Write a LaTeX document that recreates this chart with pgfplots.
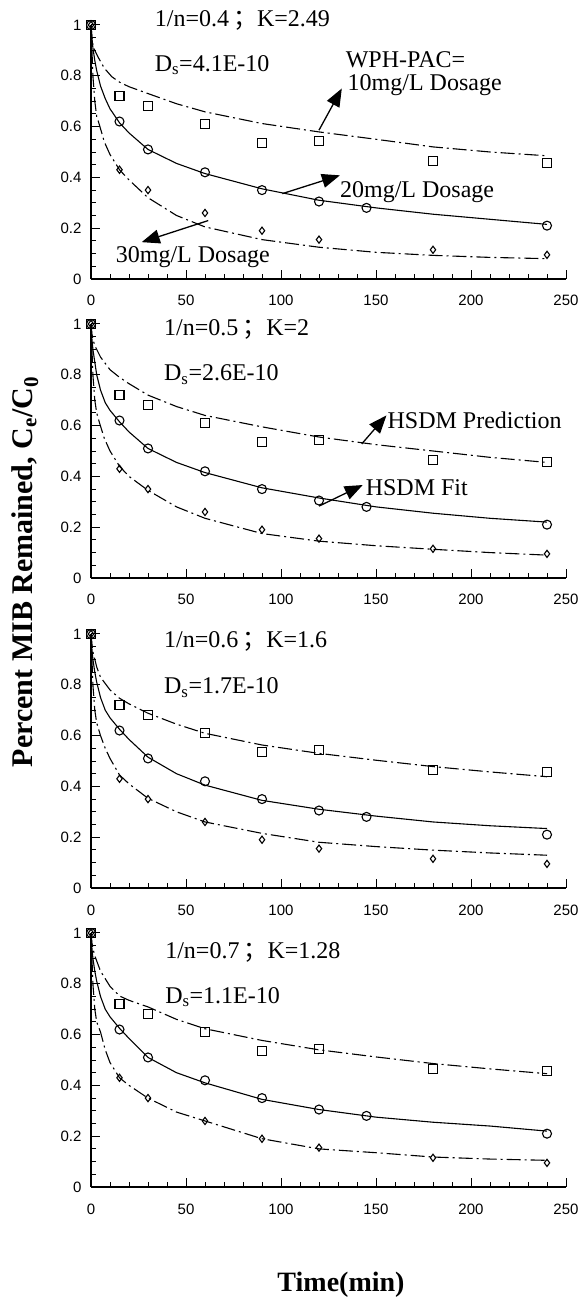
\documentclass[border=0pt]{standalone}
\usepackage{fontspec}
\setmainfont{Liberation Serif}
\newfontfamily\arial{Liberation Sans}
\newfontfamily\cjk{Noto Sans CJK SC}
\usepackage{pgfplots}
\pgfplotsset{compat=1.18}
\usetikzlibrary{arrows.meta}

\pgfplotstableread{
t v
0 1
15 0.72
30 0.68
60 0.61
90 0.535
120 0.545
180 0.465
240 0.455
}\sqdata
\pgfplotstableread{
t v
0 1
15 0.62
30 0.51
60 0.42
90 0.35
120 0.305
145 0.28
240 0.21
}\cidata
\pgfplotstableread{
t v
0 1
15 0.43
30 0.35
60 0.26
90 0.19
120 0.155
180 0.115
240 0.095
}\didata

\pgfplotsset{
  panel/.style={
    scale only axis, width=475pt, height=254pt, anchor=south west,
    xmin=0,xmax=250,ymin=0,ymax=1,
    axis lines=left, axis line style={-, line width=1.2pt},
    xtick={0,50,100,150,200,250}, minor x tick num=4,
    ytick={0,0.2,0.4,0.6,0.8,1}, minor y tick num=3,
    tick align=inside, major tick length=9pt, minor tick length=5pt,
    every tick/.style={line width=1pt, black},
    every minor tick/.style={line width=0.9pt, black},
    tick label style={font=\arial\fontsize{15}{15}\selectfont},
    /pgf/number format/assume math mode=true,
    yticklabel style={xshift=-6pt},
    xticklabel style={yshift=-13pt},
    clip=false,
  },
  sq/.style={black, only marks, mark=square, mark size=4.5pt, mark options={line width=1.1pt, solid}},
  ci/.style={black, only marks, mark=o, mark size=4.5pt, mark options={line width=1.1pt, solid}},
  di/.style={black, only marks, mark=diamond, mark size=3.6pt, mark options={line width=1.1pt, solid}},
  dd/.style={black, line width=1.1pt, no marks, dash pattern=on 14pt off 4pt on 2pt off 4pt},
  fit/.style={black, line width=1.1pt, no marks},
}
\tikzset{
  ann/.style={font=\fontsize{24}{24}\selectfont, inner sep=0pt, anchor=west},
  arr/.style={-{Triangle[width=14pt,length=18pt]}, line width=1.3pt},
}

\begin{document}
\begin{tikzpicture}[x=1pt,y=1pt]
\path[use as bounding box] (0,0) rectangle (583,1303);

% ---------- Panel 1 ----------
\begin{axis}[panel, at={(91pt,1024pt)}]
\addplot[dd] coordinates {(0,1)(0.5,0.95)(1,0.92)(2,0.9)(4,0.87)(7,0.83)(11,0.796)(15,0.775)(20,0.757)(30,0.73)(45,0.69)(60,0.658)(90,0.612)(120,0.579)(150,0.55)(180,0.52)(210,0.5)(240,0.485)};
\addplot[fit] coordinates {(0,1)(0.5,0.95)(1,0.91)(2,0.86)(3,0.82)(5,0.76)(7.5,0.71)(10,0.67)(15,0.615)(20,0.575)(30,0.51)(45,0.455)(60,0.415)(90,0.355)(120,0.31)(150,0.28)(180,0.255)(210,0.235)(240,0.215)};
\addplot[dd] coordinates {(0,1)(0.5,0.9)(1,0.8)(2,0.7)(3,0.64)(4.3,0.61)(7,0.54)(10,0.49)(15,0.43)(20,0.39)(30,0.32)(45,0.25)(60,0.205)(90,0.155)(120,0.125)(150,0.105)(180,0.093)(210,0.085)(240,0.08)};
\addplot[sq] table[x=t,y=v] {\sqdata};
\addplot[ci] table[x=t,y=v] {\cidata};
\addplot[di] table[x=t,y=v] {\didata};
\node[ann] at (axis cs:33.5,1.017) {1/n=0.4\,{\cjk ；}K=2.49};
\node[ann] at (axis cs:33.5,0.842) {D\textsubscript{s}=4.1E-10};
\node[ann] at (axis cs:134,0.862) {WPH-PAC=};
\node[ann] at (axis cs:135,0.763) {10mg/L Dosage};
\node[ann] at (axis cs:131,0.342) {20mg/L Dosage};
\node[ann] at (axis cs:13,0.086) {30mg/L Dosage};
\draw[arr] (axis cs:120,0.586) -- (axis cs:132,0.75);
\draw[arr] (axis cs:100.7,0.336) -- (axis cs:131,0.408);
\draw[arr] (axis cs:61.7,0.23) -- (axis cs:26.7,0.145);
\end{axis}

% ---------- Panel 2 ----------
\begin{axis}[panel, at={(91pt,725pt)}]
\addplot[dd] coordinates {(0,1)(0.5,0.96)(1,0.94)(2,0.915)(5,0.87)(10,0.82)(15,0.79)(20,0.765)(30,0.72)(45,0.675)(60,0.64)(90,0.595)(120,0.555)(150,0.525)(180,0.5)(210,0.475)(240,0.455)};
\addplot[fit] coordinates {(0,1)(0.5,0.94)(1,0.9)(2,0.85)(3,0.8)(5,0.74)(7.5,0.69)(10,0.66)(15,0.615)(20,0.575)(30,0.51)(45,0.455)(60,0.415)(90,0.355)(120,0.315)(150,0.28)(180,0.255)(210,0.235)(240,0.22)};
\addplot[dd] coordinates {(0,1)(0.5,0.9)(1,0.8)(2,0.7)(3,0.65)(4.5,0.61)(7,0.55)(10,0.5)(15,0.44)(20,0.4)(30,0.345)(45,0.28)(60,0.235)(90,0.175)(120,0.145)(150,0.127)(180,0.113)(210,0.1)(240,0.09)};
\addplot[sq] table[x=t,y=v] {\sqdata};
\addplot[ci] table[x=t,y=v] {\cidata};
\addplot[di] table[x=t,y=v] {\didata};
\node[ann] at (axis cs:38.4,0.98) {1/n=0.5\,{\cjk ；}K=2};
\node[ann] at (axis cs:38.4,0.80) {D\textsubscript{s}=2.6E-10};
\node[ann] at (axis cs:156,0.62) {HSDM Prediction};
\node[ann] at (axis cs:144.5,0.356) {HSDM Fit};
\draw[arr] (axis cs:142.5,0.528) -- (axis cs:155.5,0.64);
\draw[arr] (axis cs:120,0.283) -- (axis cs:143,0.366);
\end{axis}

% ---------- Panel 3 ----------
\begin{axis}[panel, at={(91pt,415pt)}]
\addplot[dd] coordinates {(0,1)(0.5,0.96)(1,0.93)(2,0.9)(3,0.87)(5,0.83)(10,0.78)(15,0.747)(20,0.725)(30,0.688)(45,0.645)(60,0.609)(90,0.563)(120,0.53)(150,0.503)(180,0.478)(210,0.457)(240,0.438)};
\addplot[fit] coordinates {(0,1)(0.5,0.94)(1,0.9)(2,0.85)(3,0.81)(5,0.75)(7.5,0.7)(10,0.67)(15,0.625)(20,0.585)(30,0.515)(45,0.45)(60,0.405)(90,0.345)(120,0.31)(150,0.283)(180,0.26)(210,0.245)(240,0.234)};
\addplot[dd] coordinates {(0,1)(0.5,0.9)(1,0.8)(2,0.7)(3,0.65)(5,0.6)(7.5,0.55)(10,0.51)(15,0.445)(20,0.41)(30,0.353)(45,0.3)(60,0.26)(90,0.215)(120,0.18)(150,0.163)(180,0.149)(210,0.138)(240,0.129)};
\addplot[sq] table[x=t,y=v] {\sqdata};
\addplot[ci] table[x=t,y=v] {\cidata};
\addplot[di] table[x=t,y=v] {\didata};
\node[ann] at (axis cs:38.4,0.97) {1/n=0.6\,{\cjk ；}K=1.6};
\node[ann] at (axis cs:38.4,0.79) {D\textsubscript{s}=1.7E-10};
\end{axis}

% ---------- Panel 4 ----------
\begin{axis}[panel, at={(91pt,116pt)}]
\addplot[dd] coordinates {(0,1)(0.5,0.96)(1,0.94)(2,0.91)(3,0.89)(5,0.85)(10,0.79)(15,0.752)(20,0.735)(30,0.709)(45,0.66)(60,0.623)(90,0.577)(120,0.54)(150,0.512)(180,0.486)(210,0.465)(240,0.446)};
\addplot[fit] coordinates {(0,1)(0.5,0.94)(1,0.9)(2,0.85)(3,0.81)(5,0.75)(7.5,0.7)(10,0.67)(15,0.625)(20,0.585)(30,0.51)(45,0.45)(60,0.41)(90,0.345)(120,0.305)(150,0.275)(180,0.255)(210,0.24)(240,0.22)};
\addplot[dd] coordinates {(0,1)(0.5,0.9)(1,0.8)(2,0.7)(3,0.65)(5,0.61)(7.5,0.54)(10,0.49)(15,0.43)(20,0.4)(30,0.35)(45,0.295)(60,0.26)(90,0.19)(120,0.15)(150,0.135)(180,0.118)(210,0.11)(240,0.105)};
\addplot[sq] table[x=t,y=v] {\sqdata};
\addplot[ci] table[x=t,y=v] {\cidata};
\addplot[di] table[x=t,y=v] {\didata};
\node[ann] at (axis cs:39,0.925) {1/n=0.7\,{\cjk ；}K=1.28};
\node[ann] at (axis cs:39,0.748) {D\textsubscript{s}=1.1E-10};
\end{axis}

\node[rotate=90, font=\bfseries\fontsize{30}{30}\selectfont, inner sep=0pt] at (25,731) {Percent MIB Remained, C\textsubscript{e}/C\textsubscript{0}};
\node[font=\bfseries\fontsize{28}{28}\selectfont, inner sep=0pt] at (341,18) {Time(min)};
\end{tikzpicture}
\end{document}
